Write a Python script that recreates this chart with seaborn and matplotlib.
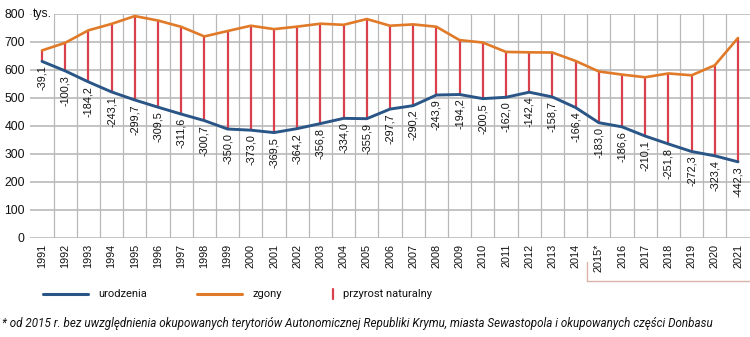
import numpy as np
import pandas as pd
import matplotlib
matplotlib.use("Agg")
import matplotlib.pyplot as plt
from matplotlib.lines import Line2D
import seaborn as sns

# Ukraine: births, deaths and natural increase, thousands
years = ["1991", "1992", "1993", "1994", "1995", "1996", "1997", "1998", "1999", "2000",
         "2001", "2002", "2003", "2004", "2005", "2006", "2007", "2008", "2009", "2010",
         "2011", "2012", "2013", "2014", "2015*", "2016", "2017", "2018", "2019", "2020", "2021"]
births = [630.8, 596.8, 557.5, 521.6, 492.9, 467.2, 442.6, 419.2, 389.2, 385.1,
          376.5, 390.7, 408.6, 427.3, 426.1, 460.4, 472.7, 510.6, 512.5, 497.7,
          502.6, 520.7, 503.7, 465.9, 411.8, 397.0, 364.0, 335.9, 308.8, 293.5, 272.0]
increase = [-39.1, -100.3, -184.2, -243.1, -299.7, -309.5, -311.6, -300.7, -350.0, -373.0,
            -369.5, -364.2, -356.8, -334.0, -355.9, -297.7, -290.2, -243.9, -194.2, -200.5,
            -162.0, -142.4, -158.7, -166.4, -183.0, -186.6, -210.1, -251.8, -272.3, -323.4, -442.3]
deaths = [round(b - d, 1) for b, d in zip(births, increase)]
y_ticks = [0, 100, 200, 300, 400, 500, 600, 700, 800]

BLUE = "#2a5587"
ORANGE = "#e07a28"
RED = "#d8404c"
GRID = "#c4c4c4"

sns.set_theme(style="white")
plt.rcParams["font.family"] = ["Liberation Sans", "DejaVu Sans"]

df = pd.DataFrame({"pos": np.arange(len(years)), "year": years,
                   "births": births, "deaths": deaths, "increase": increase})

fig = plt.figure(figsize=(7.5, 3.37), dpi=100)
ax = fig.add_axes([30.4 / 750, 1 - 238 / 337, 719.2 / 750, 224 / 337])

# grid: horizontal at every 100, vertical between categories
for v in y_ticks:
    ax.axhline(v, color=GRID, lw=1.4, zorder=0)
for k in range(len(years) - 1):
    ax.axvline(k + 0.5, color="#b8b8b8", lw=0.9, zorder=0)

# natural increase as vertical bars between the two lines
ax.vlines(df["pos"], df["births"], df["deaths"], color=RED, lw=1.6, zorder=2)

sns.lineplot(data=df, x="pos", y="deaths", ax=ax, color=ORANGE, lw=1.9, zorder=3)
sns.lineplot(data=df, x="pos", y="births", ax=ax, color=BLUE, lw=2.1, zorder=4)

for p, b, inc in zip(df["pos"], births, increase):
    lbl = f"{inc:.1f}".replace(".", ",")
    ax.annotate(lbl, (p, b), xytext=(0, -3), textcoords="offset points",
                rotation=90, ha="center", va="top", fontsize=7.8, color="#111111", zorder=5)

ax.set_xlim(-0.5, len(years) - 0.5)
ax.set_ylim(0, 800)
ax.set_xticks(df["pos"])
ax.set_xticklabels(years, rotation=90, fontsize=7.8, color="#111111")
ax.set_yticks(y_ticks)
ax.set_yticklabels([str(v) for v in y_ticks], fontsize=8.8, color="#111111")
ax.tick_params(axis="both", length=0)
ax.tick_params(axis="y", pad=4)
ax.tick_params(axis="x", pad=4)
ax.set_xlabel("")
ax.set_ylabel("")
for s in ax.spines.values():
    s.set_visible(False)

ax.text(0.004, 800, "tys.", transform=ax.get_yaxis_transform(), ha="left", va="center",
        fontsize=8.8, color="#111111", zorder=6,
        bbox=dict(facecolor="white", edgecolor="none", pad=1.0))

# bracket marking the years after 2015
fx = lambda px: px / 750
fy = lambda py: 1 - py / 337
bracket = "#d9b3aa"
fig.add_artist(Line2D([fx(587), fx(587)], [fy(262), fy(281)], color=bracket, lw=1))
fig.add_artist(Line2D([fx(587), fx(750)], [fy(281), fy(281)], color=bracket, lw=1))

# legend
leg_y = fy(294)
fig.add_artist(Line2D([fx(43), fx(88)], [leg_y, leg_y], color=BLUE, lw=2.2))
fig.text(fx(98), leg_y, "urodzenia", family="Roboto", fontsize=8, va="center", color="#111111")
fig.add_artist(Line2D([fx(197), fx(242)], [leg_y, leg_y], color=ORANGE, lw=2.2))
fig.text(fx(252), leg_y, "zgony", family="Roboto", fontsize=8, va="center", color="#111111")
fig.add_artist(Line2D([fx(333), fx(333)], [fy(289), fy(299)], color=RED, lw=1.6))
fig.text(fx(343), leg_y, "przyrost naturalny", family="Roboto", fontsize=8, va="center", color="#111111")

note = fig.text(fx(2), fy(324), "* od 2015 r. bez uwzględnienia okupowanych terytoriów Autonomicznej "
                "Republiki Krymu, miasta Sewastopola i okupowanych części Donbasu",
                family="Roboto", style="italic", fontsize=8, va="center", color="#111111")
fig.canvas.draw()
w = note.get_window_extent().width
note.set_fontsize(8 * 710 / w)

fig.savefig("out.png", dpi=100)
